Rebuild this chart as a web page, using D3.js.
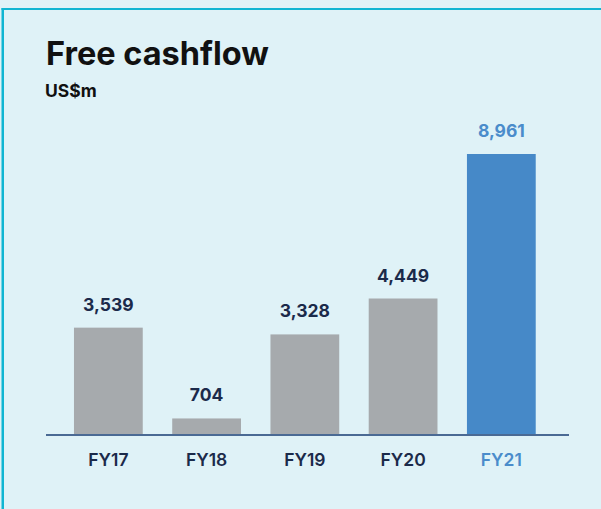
<!DOCTYPE html>
<html>
<head>
<meta charset="utf-8">
<script src="https://cdn.jsdelivr.net/npm/d3@7"></script>
<style>
  body { margin: 0; background: #dff2f7; }
  svg { display: block; font-family: Inter, "Noto Sans", sans-serif; }
</style>
</head>
<body>
<div id="chart"></div>
<script>
// data
let years = ["FY17", "FY18", "FY19", "FY20", "FY21"];
let cashflow = [3539, 704, 3328, 4449, 8961];
let valueLabels = ["3,539", "704", "3,328", "4,449", "8,961"];

let width = 601;
let height = 509;

let svg = d3.select("#chart")
  .append("svg")
  .attr("width", width)
  .attr("height", height);

// panel background + cyan border (top and left)
svg.append("rect")
  .attr("x", 0).attr("y", 0)
  .attr("width", width).attr("height", height)
  .attr("fill", "#dff2f7");

svg.append("rect")
  .attr("x", 1.5).attr("y", 8)
  .attr("width", width).attr("height", 2)
  .attr("fill", "#10b5d2");

svg.append("rect")
  .attr("x", 1.5).attr("y", 8)
  .attr("width", 2.5).attr("height", height)
  .attr("fill", "#10b5d2");

// titles
svg.append("text")
  .attr("x", 46)
  .attr("y", 65)
  .attr("font-size", "32.5px")
  .attr("font-weight", 700)
  .attr("fill", "#111111")
  .text("Free cashflow");

svg.append("text")
  .attr("x", 45)
  .attr("y", 97)
  .attr("font-size", "17.5px")
  .attr("font-weight", 700)
  .attr("fill", "#111111")
  .text("US$m");

// scales
let xScale = d3.scaleBand()
  .domain(years)
  .range([44.5, 565.2])
  .paddingInner(0.3)
  .paddingOuter(0.3);

let baseY = 435;
let yScale = d3.scaleLinear()
  .domain([0, d3.max(cashflow)])
  .range([441, 154]);

let barColor = (d, i) => i === years.length - 1 ? "#4689c8" : "#a6aaad";
let textColor = (d, i) => i === years.length - 1 ? "#4a8ccb" : "#1b2a4a";

// bars
svg.selectAll(".bar")
  .data(cashflow)
  .enter()
  .append("rect")
  .attr("class", "bar")
  .attr("x", (d, i) => xScale(years[i]))
  .attr("y", d => yScale(d))
  .attr("width", xScale.bandwidth())
  .attr("height", d => baseY - yScale(d))
  .attr("fill", barColor);

// baseline
svg.append("line")
  .attr("x1", 46).attr("x2", 569)
  .attr("y1", baseY).attr("y2", baseY)
  .attr("stroke", "#4a6a94")
  .attr("stroke-width", 2);

// value labels
svg.selectAll(".val")
  .data(cashflow)
  .enter()
  .append("text")
  .attr("class", "val")
  .attr("x", (d, i) => xScale(years[i]) + xScale.bandwidth() / 2)
  .attr("y", d => yScale(d) - 17)
  .attr("text-anchor", "middle")
  .attr("font-size", "17.5px")
  .attr("font-weight", 700)
  .attr("fill", textColor)
  .text((d, i) => valueLabels[i]);

// category labels
svg.selectAll(".cat")
  .data(years)
  .enter()
  .append("text")
  .attr("class", "cat")
  .attr("x", d => xScale(d) + xScale.bandwidth() / 2)
  .attr("y", 466)
  .attr("text-anchor", "middle")
  .attr("font-size", "17.5px")
  .attr("font-weight", 600)
  .attr("fill", textColor)
  .text(d => d);
</script>
</body>
</html>
